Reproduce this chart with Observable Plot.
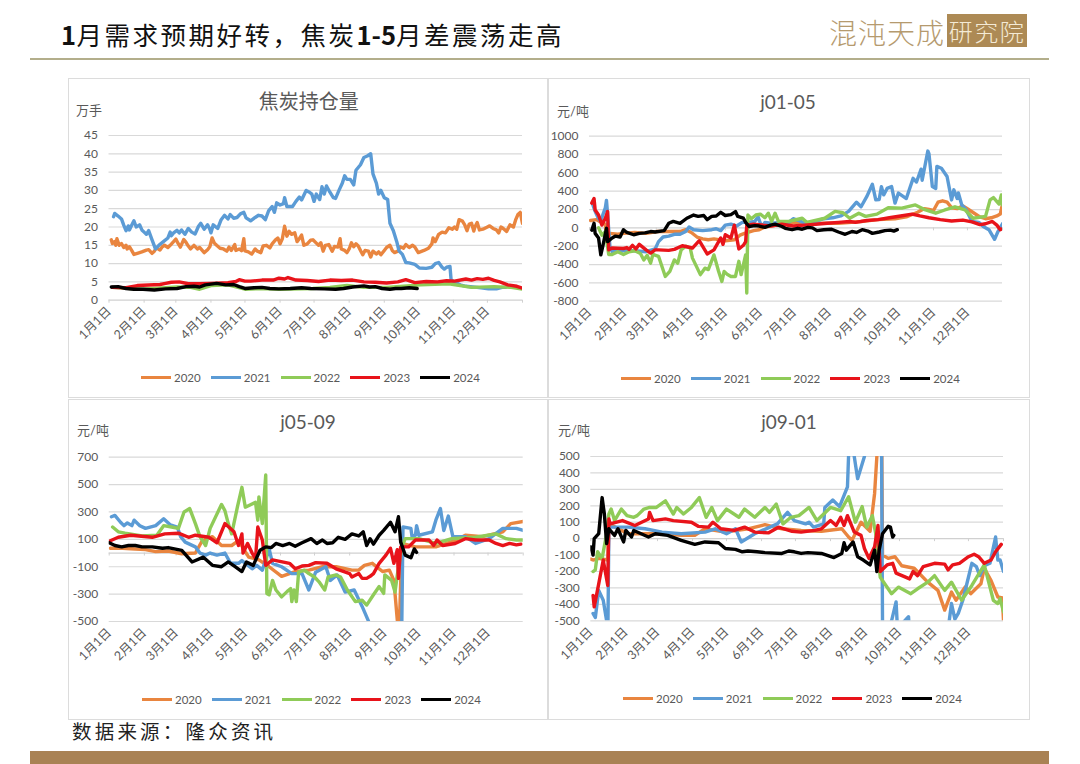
<!DOCTYPE html>
<html><head><meta charset="utf-8">
<script src="https://cdn.jsdelivr.net/npm/d3@7"></script>
<script src="https://cdn.jsdelivr.net/npm/@observablehq/plot@0.6"></script>
<style>
html,body{margin:0;padding:0;background:#fff}
#page{position:relative;width:1080px;height:764px;overflow:hidden;background:#fff;font-family:"Noto Sans CJK SC",sans-serif}
.abs{position:absolute;white-space:nowrap}
.panel{position:absolute;box-shadow:inset 0 0 0 1px #dcdcdc}
.panel svg{position:absolute;left:0;top:0;background:transparent}
.ptitle{position:absolute;transform:translateX(-50%);color:#595959;line-height:1;white-space:nowrap}
.unit{position:absolute;color:#595959;font:13px Lato,"Noto Sans CJK SC",sans-serif;white-space:nowrap;line-height:1}
.lg{position:absolute;display:flex;align-items:center;font:11.5px Lato,"Noto Sans CJK SC",sans-serif;color:#595959}
.lg div{display:flex;align-items:center;width:69.8px}
.lg i{display:block;width:30px;height:3px;margin-right:3px}
</style></head>
<body><div id="page"></div>
<script>
const years = ["2020","2021","2022","2023","2024"];
const colors = ["#e9853f","#5b9bd5","#8fcb58","#e8131a","#000000"];
const monthStarts = [0,31,59,90,120,151,181,212,243,273,304,334];
const monthLabels = ["1月1日","2月1日","3月1日","4月1日","5月1日","6月1日","7月1日","8月1日","9月1日","10月1日","11月1日","12月1日"];

// 持仓量 (万手): day of year, value
const oi2020 = [2,16.5,3,15.5,5,16,6,15,7,16.8,9,15,11,15.5,13,14.4,15,15,16,14,18,14.6,20,13.6,22,12.5,25,12.8,29,13.2,33,13.7,35,13.8,38,12.8,40,13.4,42,14.3,45,13.7,47,14.6,49,15,52,14.4,54,15,57,16,59,16.7,61,15.5,63,14.5,66,16.6,68,15.8,70,14.8,72,14,75,15,78,14,80,14.4,84,13,87,13.8,89,14.6,91,17,93,15.6,95,15,98,14.2,101,14,104,13.4,106,14.5,108,13.6,111,15.2,112,13.6,115,14,117,13.5,119,16.8,120,13.5,123,13.2,126,12.6,129,14,131,13.4,134,13,136,14.8,139,15,142,14.3,144,15.4,147,16.5,149,17,151,15.4,153,16.8,155,20.2,157,17.5,159,18.8,161,18,164,18.4,166,16,168,16.8,170,17.8,172,15,175,15.4,178,16.4,180,16.5,183,15.6,185,15,187,15.7,189,13.4,191,15,194,15.2,197,13.4,199,14.7,202,14.5,204,16.8,205,14,208,13.6,210,13,212,14,214,15.7,216,14.6,218,15.4,220,14.8,222,13.6,224,12.4,226,13.6,229,13.4,231,11.8,233,13.4,236,12.6,238,13.2,240,12.4,243,13.6,245,14.4,248,15,250,13.6,252,13,255,13.4,257,14.6,260,14.2,262,15.2,265,14.4,268,15,270,14.5,273,13,278,13.6,282,14.2,285,15.4,286,17,288,16,291,18,294,18.6,297,18.4,300,19.8,303,19.4,305,20,307,19.4,309,22,312,21.6,314,20.6,316,19,318,20.8,320,21,322,18.9,323,20,325,21.2,327,19.2,330,19.4,334,20,336,20.3,339,19.6,342,19.2,344,18.4,346,20,348,19.6,351,18.8,354,20.6,357,20,359,22,361,23.4,363,24,365,21];
const oi2021 = [4,22.8,5,23.7,8,23,11,22.2,13,20.5,15,19,17,20.3,18,19.2,20,20.5,22,21.7,24,20,27,20.6,29,19.2,31,18.6,33,18,35,19,38,16.5,41,14,44,15,48,16,52,17,54,18.6,55,17.6,57,18.4,60,19.1,62,18.4,64,19.2,67,18,70,19.6,73,18.6,76,18.1,79,20.2,81,21,84,19.4,87,20.6,89,19.4,90,18.4,92,20.6,96,19.6,99,22,102,23.2,105,22.2,107,23.4,110,22.4,113,22.6,116,23.6,119,24,121,22.5,125,21.7,129,22.6,132,23.2,135,23,138,22,141,24.5,144,25.6,146,24,148,26.6,151,26,154,26.4,155,28,157,25.6,162,25.6,165,27,168,28.2,170,27.4,174,30,177,29.5,179,29,181,27,183,29,186,27.5,188,31,190,29,192,31.2,195,29.5,198,28,200,27.8,203,30,206,32,208,34,210,33,213,33,216,31.5,218,35.5,222,37,225,39,228,39.4,231,40,233,34.5,236,32,238,29,240,30,243,28,246,27.5,248,21,251,19,254,16,256,13.5,259,12.5,262,10.3,265,10.2,270,9.8,274,8.8,280,8.7,285,9,288,10,291,10.3,294,9,296,8.5,298,9,301,9.2,302,5.5,306,4.8,310,4.2,315,3.8,325,3.5,335,3.1,342,3.1,347,3.5,350,3.5];
const oi2022 = [3,3.5,30,3,60,3.6,72,3.5,80,3,90,4,105,4.2,120,3,135,3.2,150,3,180,3.2,195,3.5,210,4,225,3.5,245,3.5,260,3.8,275,4.2,300,4.5,320,3.5,340,3.7,355,3.5,365,3];
const oi2023 = [3,3.5,15,3.4,25,4,45,4.3,50,4.6,55,4.9,62,5,70,4.5,80,4.5,90,4.6,105,4.8,112,5.1,115,5.6,120,5.2,125,5.2,135,5.5,145,5.5,150,6,155,5.8,158,6.2,165,5.5,175,5.4,185,5.1,195,5.5,205,5.4,215,5.5,225,5,235,4.9,245,4.7,255,5,262,5.6,270,4.8,280,5.1,290,5,298,5.3,305,5.2,315,5.8,320,5.5,325,5.9,330,5.7,335,6,340,5.4,345,5,352,4.2,360,3.8,365,3.3];
const oi2024 = [2,3.6,8,3.7,15,3.2,22,3,30,3,40,2.8,50,3.1,60,3.2,68,3.7,75,3.8,80,3.6,85,4.2,95,4.6,103,4.2,110,4.3,115,3.7,120,3.2,128,3.4,135,3.5,142,3.2,150,3.1,160,3.2,170,3.4,178,3.2,190,3.1,200,3,207,3.2,215,3.6,225,3.9,230,3.6,235,3.7,241,3.2,248,3,253,3.2,258,3.2,265,3.4,272,3.2];

// j01-05 (元/吨)
const a2020 = [1,80,6,90,9,70,14,40,15,-150,18,-60,25,-70,30,-60,40,-50,50,-60,60,-40,70,-40,80,-40,85,-20,90,-50,95,-100,100,-120,105,-130,110,-120,120,-140,128,-130,133,-80,137,-60,145,-30,150,-20,155,10,165,30,180,60,200,50,220,50,240,70,255,90,270,100,280,120,290,170,296,210,300,200,304,190,308,280,312,295,316,280,320,220,325,210,330,240,335,200,340,160,345,120,350,100,355,110,360,130,363,150,365,260];
const a2021 = [3,250,5,180,8,100,10,70,12,150,14,220,15,300,16,150,18,-200,20,-260,30,-250,40,-250,50,-260,58,-230,61,-150,65,-100,70,-90,75,-70,80,-70,85,-40,88,10,92,-20,100,-30,108,-20,112,-10,116,-30,120,30,125,40,130,20,135,60,140,60,146,70,149,120,151,50,153,20,155,60,160,50,170,60,175,50,180,100,185,80,190,50,200,70,207,100,215,110,222,130,229,180,236,280,240,230,245,340,250,475,253,305,256,310,258,450,260,360,263,430,267,450,270,270,273,380,280,320,286,540,289,500,293,640,294,520,299,838,300,810,303,450,306,430,307,670,311,650,316,560,320,305,322,415,325,320,326,380,329,250,333,195,338,70,344,60,348,15,353,-20,358,-125,361,-40,365,45];
const a2022 = [8,0,11,-80,14,-40,17,-290,20,-290,25,-260,30,-290,35,-260,40,-250,45,-280,48,-350,51,-300,54,-385,56,-290,61,-310,67,-530,71,-475,75,-350,78,-385,81,-240,85,-200,89,-220,91,-330,98,-510,102,-440,105,-455,110,-295,114,-470,117,-585,119,-475,122,-510,125,-530,129,-530,132,-365,134,-510,138,-295,139,-710,140,140,143,100,147,140,151,150,155,110,158,160,161,70,164,160,167,70,176,70,188,105,192,60,208,105,217,180,224,165,230,105,238,160,244,125,254,150,264,220,276,215,288,250,297,195,306,160,314,195,323,230,332,195,339,105,350,125,354,305,357,330,362,260,364,360,365,250];
const a2023 = [2,270,4,320,5,195,8,140,11,30,14,105,16,178,17,-240,20,-220,30,-225,33,-215,35,-235,38,-190,41,-230,44,-180,50,-240,54,-275,58,-240,61,-240,70,-245,75,-235,82,-195,91,-220,97,-140,104,-285,110,-240,116,-110,118,-180,120,-75,125,-110,128,30,132,-230,136,-190,138,-150,139,30,145,40,160,20,170,40,180,20,190,30,200,40,210,50,220,60,230,70,235,60,245,80,255,90,265,110,275,130,285,150,292,130,300,110,310,90,320,75,330,85,338,65,345,35,350,45,356,70,360,30,363,-20,365,-10];
const a2024 = [2,-25,4,50,5,-60,8,-110,10,-295,12,-185,15,-5,16,-150,20,-110,23,-90,27,-100,30,-20,33,-50,39,-75,44,-60,49,-55,54,-40,58,-45,66,-30,70,50,74,70,80,50,86,105,92,140,96,125,101,135,104,90,108,125,112,130,116,170,120,135,125,145,129,178,131,125,136,105,138,60,141,15,146,25,150,20,155,5,160,30,164,40,170,15,173,-5,179,-20,184,-5,188,-15,193,5,197,0,201,-30,207,-20,214,-15,220,-45,226,-70,232,-40,236,-50,241,-20,246,-35,250,-60,256,-45,261,-30,266,-25,269,-35,272,-20];

// j05-09 (元/吨)
const b2020 = [1,35,12,35,23,30,32,25,41,10,52,15,64,-5,76,0,82,90,91,120,99,55,108,55,114,90,123,-30,132,-50,141,-100,152,-170,164,-135,176,-125,188,-100,200,-100,214,-125,220,-125,225,-90,232,-75,241,-135,247,-125,251,-200,254,-490,256,-490,258,70,270,45,288,45,306,95,314,130,329,120,347,155,354,215,365,230];
const b2021 = [2,265,5,275,10,225,13,200,16,220,20,200,22,240,27,200,32,180,41,200,48,250,54,205,60,190,63,120,67,80,76,45,80,0,85,-15,89,0,95,-15,102,0,107,-75,114,-75,117,-55,126,-115,130,-90,135,-125,141,30,144,-75,152,-100,161,-150,170,-150,176,-270,182,-140,191,-100,195,-200,201,-160,208,-285,216,-270,223,-390,229,-505,233,-700,254,-700,257,-700,258,-500,259,190,266,180,267,120,270,130,271,200,273,130,285,155,288,240,292,325,295,165,299,270,303,120,314,120,323,70,335,105,347,180,359,180,365,165];
const b2022 = [3,190,8,155,14,145,29,125,42,130,48,200,55,190,61,180,66,300,71,325,76,215,80,120,85,55,89,180,99,355,102,310,105,215,108,140,113,335,117,480,120,335,129,370,131,240,132,410,135,215,138,570,139,-295,141,-305,144,-200,147,-270,152,-320,157,-280,160,-260,161,-355,163,-270,165,-355,167,-140,172,-125,176,-150,181,-175,185,-210,190,-270,193,-175,200,-160,204,-175,210,-270,217,-355,223,-345,227,-380,233,-305,238,-245,242,-295,243,-160,249,-200,252,-285,254,-160,258,45,261,105,273,105,288,70,302,105,323,115,341,140,350,105,359,95,365,95];
const b2023 = [1,90,8,115,19,130,38,115,49,140,61,145,70,115,76,130,88,115,95,75,102,215,110,155,114,55,117,140,118,0,122,70,126,0,129,-40,131,190,135,95,138,-90,144,-50,159,-75,164,-115,170,-95,176,-90,182,-70,192,-75,200,-115,207,-135,212,-150,214,-175,220,-150,223,-185,227,-185,230,-170,233,-150,238,-75,244,-15,248,35,251,-75,254,25,255,-185,257,45,264,45,270,95,282,95,286,55,289,95,294,55,305,70,314,105,323,95,335,95,341,70,347,55,353,70,359,60,363,65];
const b2024 = [0,75,5,55,11,45,17,55,23,55,29,45,38,45,47,35,52,40,64,20,73,-65,83,-30,91,-90,99,-100,105,-65,111,-100,117,-135,121,-65,127,-90,133,20,138,45,143,40,147,70,153,55,159,70,164,50,170,75,178,105,183,70,188,95,192,70,197,75,202,115,208,100,214,140,220,125,224,155,227,55,230,105,233,65,238,130,242,165,248,225,252,155,255,265,257,80,261,-15,266,-35,269,30,271,5];

// j09-01 (元/吨)
const c2020 = [0,-125,2,-130,7,-120,15,-130,16,90,33,30,51,30,66,30,80,20,92,20,101,60,119,40,139,60,154,85,169,60,186,50,204,45,222,60,228,10,231,-10,239,100,247,45,251,275,253,500,254,900,257,900,258,-100,263,-120,269,-110,275,-165,286,-180,298,-265,307,-315,313,-435,319,-325,323,-375,331,-295,336,-335,345,-275,348,-180,354,-255,360,-355,364,-360,365,-497];
const c2021 = [2,-455,4,-480,7,-315,11,-375,14,-500,15,-650,16,70,33,70,48,60,63,40,80,30,101,40,110,60,120,30,128,60,133,-20,145,30,165,90,174,160,180,110,190,90,193,100,197,70,206,90,207,190,214,235,220,195,227,315,229,700,233,500,236,365,242,500,243,700,257,700,258,-500,259,-650,266,-500,270,-385,272,-650,275,-520,281,-475,283,-700,316,-700,317,-500,319,-395,322,-490,325,-455,329,-375,334,-235,337,-150,341,-170,344,-225,348,-165,353,-150,358,10,360,-130,362,-130,365,-200];
const c2022 = [2,-200,4,-190,6,-80,10,-120,14,30,16,150,18,180,21,110,27,180,32,140,38,130,41,140,47,180,52,190,58,190,66,230,73,150,76,190,82,150,89,190,96,250,102,130,107,190,112,110,120,180,131,130,136,180,145,130,154,190,158,160,164,210,170,90,177,130,184,140,193,190,200,110,206,150,212,190,221,170,228,255,234,100,240,195,244,70,249,140,252,30,256,-235,266,-335,272,-295,283,-335,289,-305,298,-265,304,-225,313,-315,319,-265,328,-375,337,-285,348,-160,356,-375,360,-395,362,-365,365,-445];
const c2023 = [2,-345,3,-415,7,-275,11,-130,15,-285,16,120,17,90,28,110,39,80,51,120,52,160,55,110,66,120,73,110,89,100,95,75,104,70,108,100,115,60,127,50,136,70,145,40,157,35,166,70,178,45,186,40,198,50,204,60,212,110,217,80,221,130,224,80,227,140,233,40,239,20,242,-60,246,-120,251,-50,254,80,256,-200,262,-160,267,-150,270,-210,282,-245,285,-200,289,-225,294,-170,304,-150,313,-155,316,-190,320,-160,326,-150,334,-110,339,-95,343,-110,348,-150,354,-130,358,-80,363,-35];
const c2024 = [0,-50,2,-100,3,0,7,30,10,250,12,150,14,-30,16,60,21,20,24,60,29,-20,31,50,36,10,38,50,51,10,57,30,68,20,80,-10,92,-35,101,-20,113,-25,119,-60,128,-65,134,-80,139,-75,147,-80,154,-85,169,-90,175,-75,180,-80,186,-90,192,-85,204,-90,215,-115,222,-90,224,-25,226,-70,232,-20,236,-110,241,-130,247,-160,251,-70,253,-200,255,-70,258,30,263,75,265,70,267,10,268,20];

const panelCfg = [
  {title:"焦炭持仓量", tfs:20, tx:240.7, ty:13, unit:"万手", ux:8, uy:26, left:68, top:78, w:480, h:320, ml:40.5, mr:26, mt:57, mb:98.3, domain:[0,45], ticks:[0,5,10,15,20,25,30,35,40,45], zero:0, lx:73, ly:299, series:[oi2020,oi2021,oi2022,oi2023,oi2024]},
  {title:"j01-05", tfs:19, tx:240, ty:14, unit:"元/吨", ux:9, uy:27, left:548, top:78, w:482, h:320, ml:41, mr:28, mt:57.7, mb:97.3, domain:[-800,1000], ticks:[-800,-600,-400,-200,0,200,400,600,800,1000], zero:0, lx:73, ly:300, series:[a2020,a2021,a2022,a2023,a2024]},
  {title:"j05-09", tfs:19, tx:240, ty:13, unit:"元/吨", ux:9, uy:25, left:68, top:399, w:480, h:321, ml:40.7, mr:25.3, mt:57.7, mb:99, domain:[-500,700], ticks:[-500,-300,-100,100,300,500,700], zero:0, lx:74, ly:300, series:[b2020,b2021,b2022,b2023,b2024]},
  {title:"j09-01", tfs:19, tx:241, ty:13, unit:"元/吨", ux:10, uy:25, left:548, top:399, w:482, h:321, ml:42.3, mr:27, mt:57, mb:99.7, domain:[-500,500], ticks:[-500,-400,-300,-200,-100,0,100,200,300,400,500], zero:0, lx:75, ly:299, series:[c2020,c2021,c2022,c2023,c2024]}
];

const page = document.getElementById("page");
function add(cls, css, html, parent){
  const e = document.createElement("div");
  e.className = cls; e.style.cssText = css; e.innerHTML = html;
  (parent||page).appendChild(e); return e;
}
function rows(flat, k){
  const r = [];
  for(let i=0;i<flat.length;i+=2) r.push({d:flat[i], v:flat[i+1], k});
  return r;
}

// header
add("abs","left:61px;top:15px;font-size:25.5px;line-height:38px;letter-spacing:2.5px;color:#111;font-weight:400",
  '<b style="font-weight:700;letter-spacing:0.5px">1</b>月需求预期好转，焦炭<b style="font-weight:700;letter-spacing:0">1-5</b>月差震荡走高');
add("abs","left:829px;top:12px;font-size:28px;line-height:40px;letter-spacing:1px;color:#b59a6e;font-weight:300","混沌天成");
add("abs","left:947px;top:14px;width:80px;height:33px;background:#ad8a55;color:#f4ead6;font-size:24px;line-height:33px;text-align:center;letter-spacing:1.5px;font-weight:300","研究院");
add("abs","left:30px;top:58px;width:1019px;height:2px;background:#b3ae8b","");
add("abs","left:72px;top:716px;font-size:19.5px;line-height:29px;letter-spacing:3.2px;color:#222","数据来源：隆众资讯");
add("abs","left:30px;top:751px;width:1019px;height:13px;background:#a98254","");

// panels
panelCfg.forEach(p=>{
  const box = add("panel",`left:${p.left}px;top:${p.top}px;width:${p.w}px;height:${p.h}px`,"");
  const data = p.series.flatMap((s,i)=>rows(s,years[i]));
  const fig = Plot.plot({
    width:p.w, height:p.h, marginLeft:p.ml, marginRight:p.mr, marginTop:p.mt, marginBottom:p.mb,
    style:{fontFamily:'Lato,"Noto Sans CJK SC",sans-serif', fontSize:"11.5px", color:"#595959", background:"transparent"},
    x:{domain:[0,365], axis:null},
    y:{domain:p.domain, axis:null},
    color:{domain:years, range:colors},
    marks:[
      Plot.ruleY(p.ticks.filter(t=>t!==p.zero),{y:d=>d, stroke:"#d9d9d9", strokeWidth:1.2}),
      Plot.ruleY([p.zero],{y:d=>d, stroke:"#d0d0d0", strokeWidth:1.2}),
      Plot.ruleX(monthStarts.concat([365]),{x:d=>d, y1:()=>p.zero, y2:()=>p.zero, insetBottom:-3, stroke:"#d0d0d0", strokeWidth:1}),
      Plot.axisY({ticks:p.ticks, tickSize:0, tickPadding:11, label:null, tickFormat:d=>String(d), fontSize:12}),
      Plot.axisX({anchor:"bottom", ticks:monthStarts, tickSize:0, tickPadding:9, tickRotate:-45, label:null, tickFormat:d=>monthLabels[monthStarts.indexOf(d)], fontSize:12.5}),
      ...years.map(y=>Plot.line(data.filter(r=>r.k===y),{x:"d", y:"v", stroke:"k", strokeWidth:3.4, strokeLinejoin:"round", clip:true}))
    ]
  });
  box.appendChild(fig);
  add("ptitle",`left:${p.tx}px;top:${p.ty}px;font-size:${p.tfs}px;font-family:Lato,"Noto Sans CJK SC",sans-serif`,p.title,box);
  add("unit",`left:${p.ux}px;top:${p.uy}px`,p.unit,box);
  add("lg",`left:${p.lx}px;top:${p.ly-8}px;height:16px`,
    years.map((y,i)=>`<div><i style="background:${colors[i]}"></i>${y}</div>`).join(""),box);
});
</script></body></html>
